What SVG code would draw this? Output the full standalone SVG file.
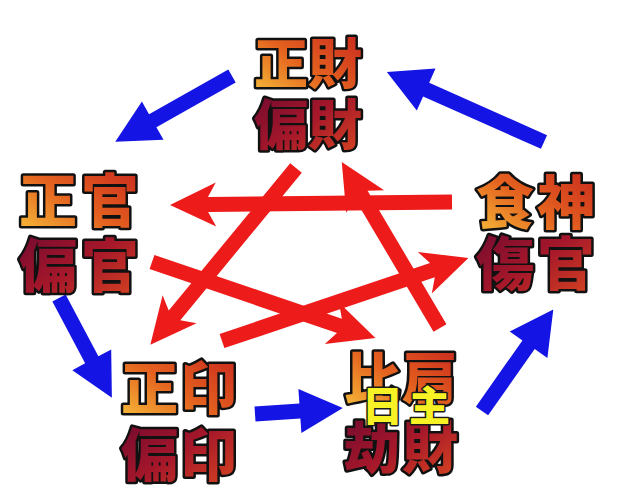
<svg xmlns="http://www.w3.org/2000/svg" width="618" height="502" viewBox="0 0 618 502">
<defs>
<linearGradient id="g1" x1="0" y1="1" x2="1" y2="0">
<stop offset="0" stop-color="#f8c63c"/>
<stop offset="0.45" stop-color="#e4621f"/>
<stop offset="1" stop-color="#c41d1e"/>
</linearGradient>
<linearGradient id="g2" x1="0" y1="0" x2="1" y2="1">
<stop offset="0" stop-color="#6a0830"/>
<stop offset="0.5" stop-color="#a5172a"/>
<stop offset="1" stop-color="#dd4a1f"/>
</linearGradient>
<style>
.t{font-family:"Noto Sans CJK JP","Noto Sans CJK SC",sans-serif;font-weight:900;font-size:54px;text-anchor:middle;stroke:#111;stroke-width:5;stroke-linejoin:round;paint-order:stroke}
.l1{fill:url(#g1)}
.l2{fill:url(#g2)}
.y{font-family:"Noto Sans CJK JP","Noto Sans CJK SC",sans-serif;font-weight:900;font-size:41px;text-anchor:middle;fill:#f6f226;stroke:#1a1a1a;stroke-width:3;stroke-linejoin:round;paint-order:stroke;letter-spacing:6px}
.b{fill:#1414e4}
.r{fill:#ee1b1b}
</style>
</defs>
<rect width="618" height="502" fill="#fff"/>
<g id="connectors">
<polygon class="b" transform="translate(232,76) rotate(150.6)" points="0,-7.5 91,-7.5 91,-22 134,0 91,22 91,7.5 0,7.5"/>
<polygon class="b" transform="translate(544,142) rotate(-156)" points="0,-7.5 129,-7.5 129,-23 172,0 129,23 129,7.5 0,7.5"/>
<polygon class="b" transform="translate(59,298) rotate(62.1)" points="0,-7.5 70,-7.5 70,-22 113,0 70,22 70,7.5 0,7.5"/>
<polygon class="b" transform="translate(255,414) rotate(-3.9)" points="0,-7.5 45,-7.5 45,-22 88,0 45,22 45,7.5 0,7.5"/>
<polygon class="b" transform="translate(482,411) rotate(-54.9)" points="0,-7.5 81,-7.5 81,-23 124,0 81,23 81,7.5 0,7.5"/>
<polygon class="r" transform="translate(452,202) rotate(179.4)" points="0,-7.5 244,-7.5 236,-22 282,0 236,22 244,7.5 0,7.5"/>
<polygon class="r" transform="translate(296,168) rotate(129.5)" points="0,-7.5 191,-7.5 183,-22 229,0 183,22 191,7.5 0,7.5"/>
<polygon class="r" transform="translate(152,262) rotate(18.8)" points="0,-7.5 198,-7.5 190,-22 236,0 190,22 198,7.5 0,7.5"/>
<polygon class="r" transform="translate(440,328) rotate(-120.6)" points="0,-7.5 155,-7.5 147,-22 193,0 147,22 155,7.5 0,7.5"/>
<polygon class="r" transform="translate(222,341) rotate(-18.6)" points="0,-7.5 222,-7.5 214,-22 260,0 214,22 222,7.5 0,7.5"/>
</g>
<g id="node-zaicai">
<text class="t l1" x="308" y="84">正財</text>
<text class="t l2" x="308" y="145">偏財</text>
</g>
<g id="node-guanguan" style="font-size:58px;letter-spacing:4px">
<text class="t l1" x="81" y="222" style="font-size:58px">正官</text>
<text class="t l2" x="81" y="287" style="font-size:58px">偏官</text>
</g>
<g id="node-shishen">
<text class="t l1" x="537" y="224" style="font-size:58px;letter-spacing:3px">食神</text>
<text class="t l2" x="537" y="285" style="font-size:58px;letter-spacing:3px">傷官</text>
</g>
<g id="node-yin">
<text class="t l1" x="180" y="409" style="font-size:57px;letter-spacing:2px">正印</text>
<text class="t l2" x="180" y="476" style="font-size:57px;letter-spacing:2px">偏印</text>
</g>
<g id="node-bijian">
<text class="t l1" x="402" y="399" style="font-size:56px;letter-spacing:2px">比肩</text>
<text class="t l2" x="402" y="468" style="font-size:56px;letter-spacing:2px">劫財</text>
<text class="y" x="409" y="421">日主</text>
</g>
</svg>
